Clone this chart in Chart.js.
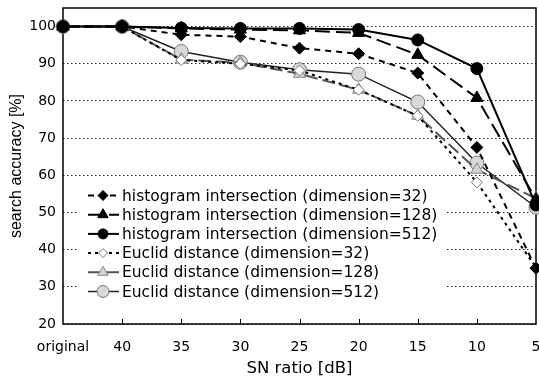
<!DOCTYPE html>
<html>
<head>
<meta charset="utf-8">
<script src="https://cdn.jsdelivr.net/npm/chart.js@4.4.0/dist/chart.umd.min.js"></script>
<style>
  html, body { margin: 0; padding: 0; background: #fff; overflow: hidden; }
  #wrap { width: 545px; height: 383px; }
</style>
</head>
<body>
<div id="wrap"><canvas id="chart" width="545" height="383"></canvas></div>
<script>
// Data
const snLabels = ["original", "40", "35", "30", "25", "20", "15", "10", "5"];
const hist32 = [100, 100, 97.8, 97.3, 94.2, 92.7, 87.5, 67.5, 35];
const hist128 = [100, 100, 99.5, 99.2, 99, 98.3, 92.4, 80.8, 53.5];
const hist512 = [100, 100, 99.6, 99.5, 99.5, 99.2, 96.4, 88.7, 52];
const euclid32 = [100, 100, 91, 90, 88.2, 83, 76, 58.1, 35.2];
const euclid128 = [100, 100, 91.1, 90.3, 87.3, 83, 76, 61.5, 53.8];
const euclid512 = [100, 100, 93.3, 90.4, 88.4, 87.2, 79.7, 63.3, 51.4];
const yTicks = [20, 30, 40, 50, 60, 70, 80, 90, 100];

const FONT = "'DejaVu Sans', sans-serif";

function series(label, data, style) {
    return Object.assign({
        label: label,
        data: data,
        borderColor: "#000",
        borderWidth: 2,
        pointBorderWidth: 1,
        clip: false,
        tension: 0,
        fill: false
    }, style);
}

const datasets = [
    series("histogram intersection (dimension=32)", hist32, {
        borderDash: [6, 5], pointStyle: "rectRot", pointRadius: 6,
        pointBackgroundColor: "#000", pointBorderColor: "#000"
    }),
    series("histogram intersection (dimension=128)", hist128, {
        borderDash: [15, 6], pointStyle: "triangle", pointRadius: 7,
        pointBackgroundColor: "#000", pointBorderColor: "#000"
    }),
    series("histogram intersection (dimension=512)", hist512, {
        pointStyle: "circle", pointRadius: 6,
        pointBackgroundColor: "#000", pointBorderColor: "#000"
    }),
    series("Euclid distance (dimension=32)", euclid32, {
        borderDash: [3, 4], pointStyle: "rectRot", pointRadius: 5.5,
        pointBackgroundColor: "#fff", pointBorderColor: "#777"
    }),
    series("Euclid distance (dimension=128)", euclid128, {
        borderColor: "#555", borderDash: [13, 5], pointStyle: "triangle", pointRadius: 7,
        pointBackgroundColor: "#d4d4d4", pointBorderColor: "#888"
    }),
    series("Euclid distance (dimension=512)", euclid512, {
        borderColor: "#222", borderWidth: 1.5, pointStyle: "circle", pointRadius: 7,
        pointBackgroundColor: "#d8d8d8", pointBorderColor: "#777"
    })
];

// Box round the plot area plus small inward ticks on the x axis
const framePlugin = {
    id: "frame",
    beforeDatasetsDraw(chart) {
        const { ctx, chartArea: a, scales } = chart;
        ctx.save();
        ctx.strokeStyle = "#000";
        ctx.lineWidth = 1.5;
        ctx.strokeRect(a.left, a.top, a.right - a.left, a.bottom - a.top);
        ctx.lineWidth = 1;
        const xs = scales.x;
        for (let i = 1; i < snLabels.length - 1; i++) {
            const px = Math.round(xs.getPixelForTick(i)) + 0.5;
            ctx.beginPath();
            ctx.moveTo(px, a.bottom);
            ctx.lineTo(px, a.bottom - 5);
            ctx.stroke();
        }
        ctx.restore();
    }
};

// Legend box sitting inside the plot, lower left
const legendPlugin = {
    id: "innerLegend",
    beforeDatasetsDraw(chart) {
        const { ctx, chartArea: a } = chart;
        const left = a.left + 16, top = 181, right = 447, bottom = 302;
        const rowH = 19.2, firstRow = 195.5;
        ctx.save();
        ctx.fillStyle = "#fff";
        ctx.fillRect(left, top, right - left, bottom - top);
        ctx.font = "15.5px " + FONT;
        ctx.textBaseline = "middle";
        ctx.textAlign = "left";
        chart.data.datasets.forEach((ds, i) => {
            const y = firstRow + i * rowH;
            ctx.save();
            ctx.strokeStyle = ds.borderColor;
            ctx.lineWidth = ds.borderWidth;
            ctx.setLineDash(ds.borderDash || []);
            ctx.beginPath();
            ctx.moveTo(88, y);
            ctx.lineTo(119, y);
            ctx.stroke();
            ctx.setLineDash([]);
            ctx.fillStyle = ds.pointBackgroundColor;
            ctx.strokeStyle = ds.pointBorderColor;
            ctx.lineWidth = 1;
            Chart.helpers.drawPoint(ctx, {
                pointStyle: ds.pointStyle,
                radius: ds.pointRadius - 1,
                rotation: 0,
                borderWidth: 1
            }, 103, y);
            ctx.restore();
            ctx.fillStyle = "#000";
            ctx.fillText(ds.label, 122, y + 1);
        });
        ctx.restore();
    }
};

new Chart(document.getElementById("chart"), {
    type: "line",
    data: { labels: snLabels, datasets: datasets },
    options: {
        responsive: false,
        animation: false,
        layout: { padding: { top: 5, right: 9, left: 0, bottom: 0 } },
        plugins: { legend: { display: false }, tooltip: { enabled: false } },
        scales: {
            x: {
                type: "category",
                offset: false,
                afterFit(scale) {
                    scale.height = 59;
                    scale.paddingLeft = 0;
                    scale.paddingRight = 0;
                },
                grid: { display: false, drawTicks: false },
                border: { display: false },
                ticks: {
                    color: "#000", padding: 15, maxRotation: 0, autoSkip: false,
                    font: { family: FONT, size: 14 }
                },
                title: {
                    display: true, text: "SN ratio [dB]", color: "#000",
                    font: { family: FONT, size: 16.5 }, padding: { top: 2, bottom: 4 }
                }
            },
            y: {
                min: 20,
                max: 105,
                afterFit(scale) {
                    scale.width = 63;
                    scale.paddingTop = 0;
                    scale.paddingBottom = 0;
                },
                afterBuildTicks(scale) {
                    scale.ticks = yTicks.map(v => ({ value: v }));
                },
                grid: {
                    drawTicks: false,
                    color: "#222",
                    lineWidth: 1
                },
                border: { display: false, dash: [1.5, 2.5] },
                ticks: {
                    color: "#000", padding: 7,
                    font: { family: FONT, size: 14 }
                },
                title: {
                    display: true, text: "search accuracy [%]", color: "#000",
                    font: { family: "'Liberation Sans', Arial, sans-serif", size: 16 },
                    padding: { top: 7, bottom: 0 }
                }
            }
        }
    },
    plugins: [framePlugin, legendPlugin]
});
</script>
</body>
</html>
